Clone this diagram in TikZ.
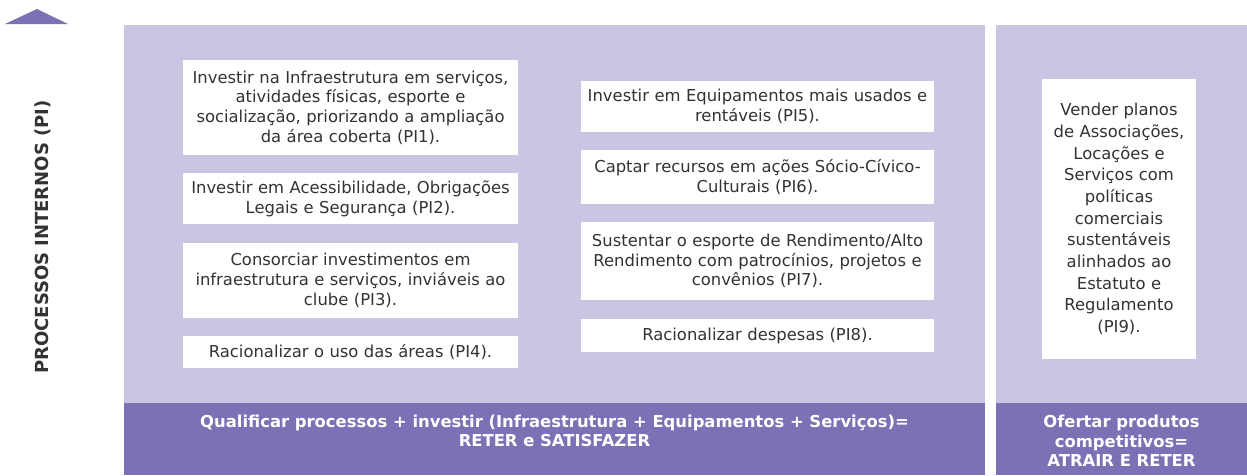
\documentclass[tikz,border=0pt]{standalone}
\usepackage{fontspec}
\setmainfont{DejaVu Sans}
\definecolor{lightp}{HTML}{C9C5E3}
\definecolor{darkp}{HTML}{7A72B4}
\definecolor{txt}{HTML}{333333}
\begin{document}
\begin{tikzpicture}[x=1pt,y=-1pt,
  wbox/.style={fill=white,draw=none,inner sep=0pt,align=center,text=txt,
    font=\fontsize{16.4}{19.7}\selectfont},
  bartext/.style={text=white,align=center,inner sep=0pt,font=\bfseries\fontsize{16.4}{19.5}\selectfont}]
\useasboundingbox (0,0) rectangle (1247,475);
% triangle
\fill[darkp] (5,24) -- (37,9) -- (68,24) -- cycle;
% vertical label
\node[rotate=90,text=txt,font=\bfseries\fontsize{18}{20}\selectfont] (lab) at (43,237) {PROCESSOS INTERNOS (PI)};
% panels
\fill[lightp] (124,25) rectangle (985,403);
\fill[darkp] (124,403) rectangle (985,475);
\fill[lightp] (996,25) rectangle (1247,403);
\fill[darkp] (996,403) rectangle (1247,475);
% left column
\node[wbox,minimum width=335pt,minimum height=95pt,text width=335pt] (pi1) at (350.5,107.5)
 {Investir na Infraestrutura em serviços,\\atividades físicas, esporte e\\socialização, priorizando a ampliação\\da área coberta (PI1).};
\node[wbox,minimum width=335pt,minimum height=51pt,text width=335pt] (pi2) at (350.5,198.5)
 {Investir em Acessibilidade, Obrigações\\Legais e Segurança (PI2).};
\node[wbox,minimum width=335pt,minimum height=75pt,text width=335pt] (pi3) at (350.5,280.5)
 {Consorciar investimentos em\\infraestrutura e serviços, inviáveis ao\\clube (PI3).};
\node[wbox,minimum width=335pt,minimum height=32pt,text width=335pt] (pi4) at (350.5,352)
 {Racionalizar o uso das áreas (PI4).};
% middle column
\node[wbox,minimum width=353pt,minimum height=51pt,text width=353pt] (pi5) at (757.5,106.5)
 {Investir em Equipamentos mais usados e\\rentáveis (PI5).};
\node[wbox,minimum width=353pt,minimum height=54pt,text width=353pt] (pi6) at (757.5,177)
 {Captar recursos em ações Sócio-Cívico-\\Culturais (PI6).};
\node[wbox,minimum width=353pt,minimum height=78pt,text width=353pt] (pi7) at (757.5,261)
 {Sustentar o esporte de Rendimento/Alto\\Rendimento com patrocínios, projetos e\\convênios (PI7).};
\node[wbox,minimum width=353pt,minimum height=33pt,text width=353pt] (pi8) at (757.5,335.5)
 {Racionalizar despesas (PI8).};
% right column
\node[wbox,minimum width=154pt,minimum height=280pt,text width=154pt,
  font=\fontsize{16.4}{21.7}\selectfont] (pi9) at (1119,219)
 {Vender planos\\de Associações,\\Locações e\\Serviços com\\políticas\\comerciais\\sustentáveis\\alinhados ao\\Estatuto e\\Regulamento\\(PI9).};
% bar texts
\node[bartext] (b1) at (554.5,431) {Qualificar processos + investir (Infraestrutura + Equipamentos + Serviços)=\\RETER e SATISFAZER};
\node[bartext] (b2) at (1121.5,441) {Ofertar produtos\\competitivos=\\ATRAIR E RETER};
\end{tikzpicture}
\end{document}
